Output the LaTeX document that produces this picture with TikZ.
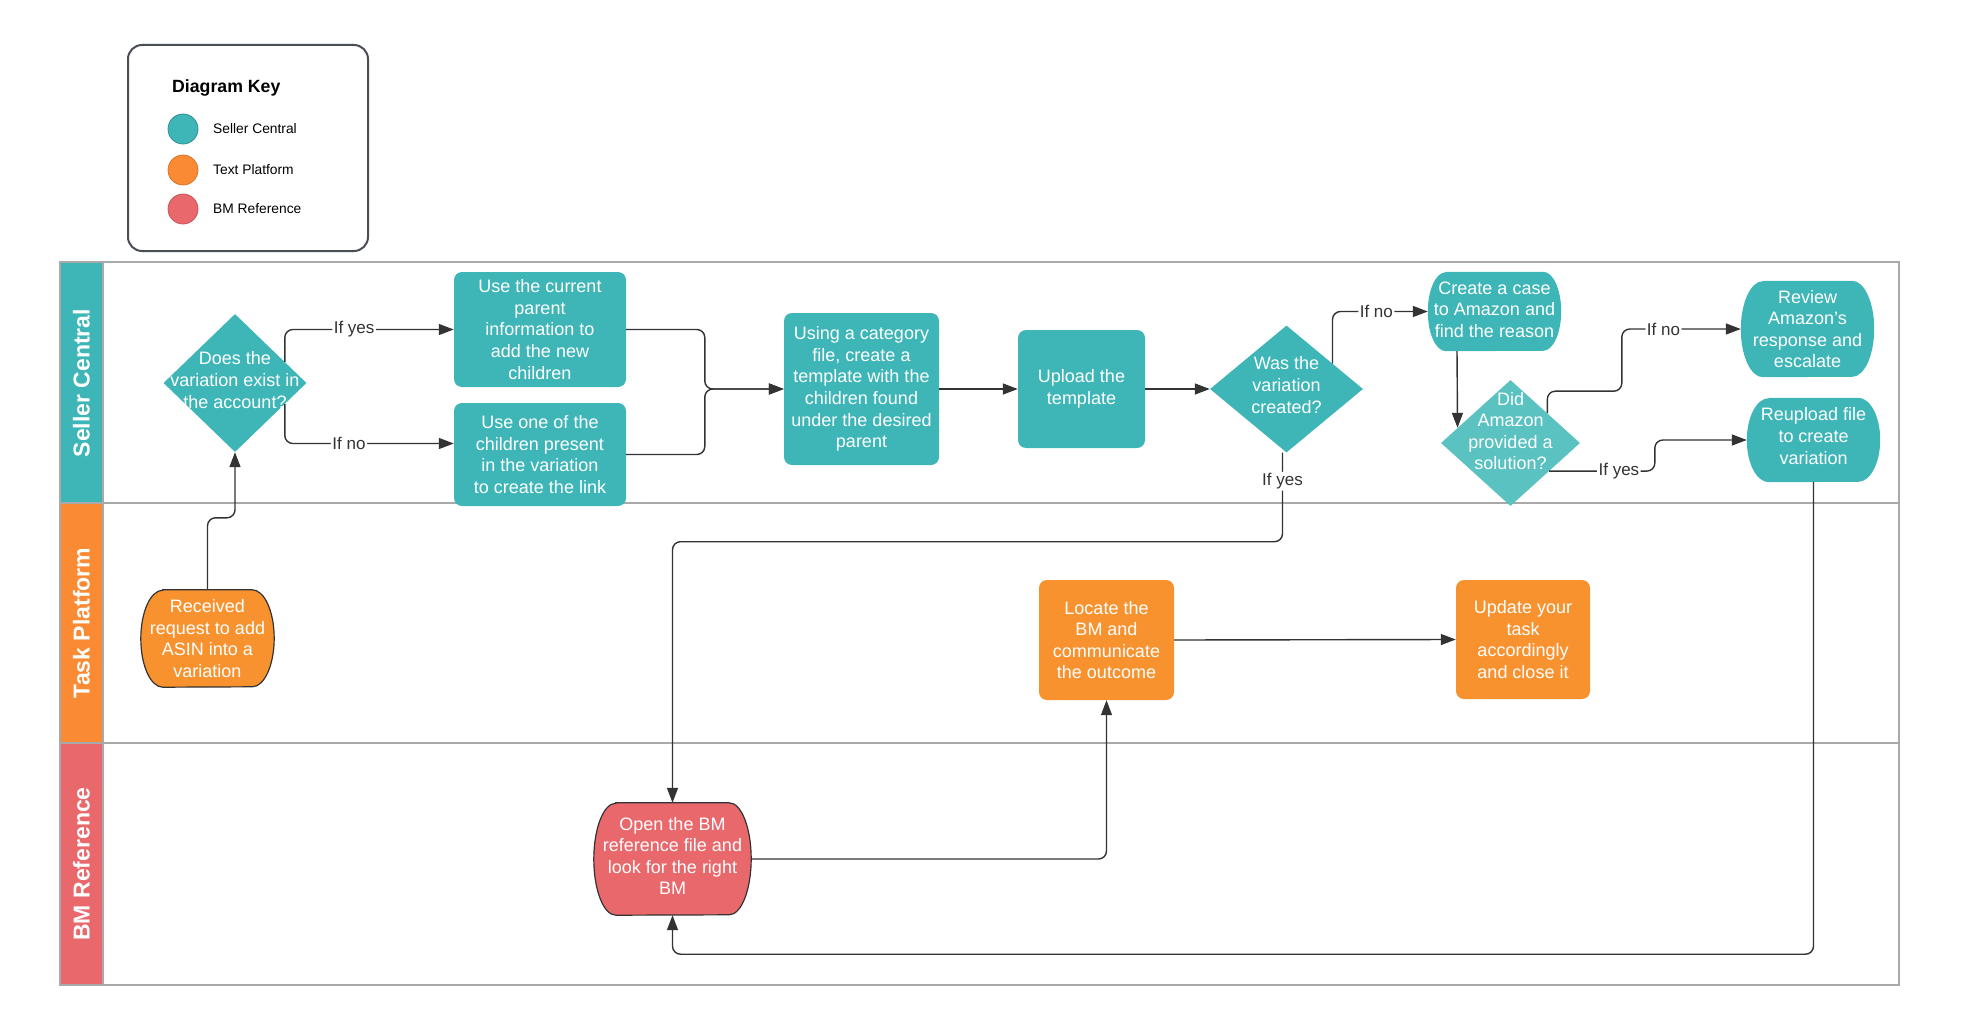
\documentclass[tikz,border=0pt]{standalone}
\usepackage{fontspec}
\setmainfont{Liberation Sans}
\usetikzlibrary{shapes.geometric,arrows.meta,calc}
\definecolor{teal1}{HTML}{3EB5B6}
\definecolor{teal2}{HTML}{5AC2C0}
\definecolor{orng}{HTML}{F8922F}
\definecolor{orngh}{HTML}{FA8B34}
\definecolor{redd}{HTML}{E8686C}
\definecolor{lanegray}{HTML}{A9A9A9}
\definecolor{ink}{HTML}{333333}
\definecolor{keyedge}{HTML}{4A4F55}
\newcommand\mynodefont{\fontsize{18}{21.6}\selectfont}
\newcommand\blobnode[7]{% name, x, y, w, h, rx, style
  \node[inner sep=0pt, minimum width=#4pt, minimum height=#5pt] (#1) at (#2,#3) {};
  \path[#7] ([xshift=#6pt]#1.north west) -- ([xshift=-#6pt]#1.north east)
     arc[start angle=90, end angle=-90, x radius=#6pt, y radius=#5pt/2]
     -- ([xshift=#6pt]#1.south west)
     arc[start angle=270, end angle=90, x radius=#6pt, y radius=#5pt/2] -- cycle;
}
\tikzset{
  txt/.style={text=white, align=center, inner sep=0pt, font=\mynodefont},
  box/.style={rectangle, rounded corners=8pt, fill=teal1, text=white, align=center, inner sep=0pt, font=\mynodefont},
  obox/.style={box, fill=orng},
  dia/.style={diamond, inner sep=0pt, fill=teal1},
  lbl/.style={fill=white, text=ink, inner sep=1.5pt, font=\fontsize{17}{20}\selectfont},
  conn/.style={draw=ink, line width=1.4pt, rounded corners=8pt, -{Triangle[length=15pt,width=11pt]}},
  lane/.style={draw=lanegray, line width=2pt},
  lanetitle/.style={rotate=90, text=white, font=\fontsize{23}{26}\selectfont\bfseries},
  keylbl/.style={anchor=west, inner sep=0pt, font=\fontsize{13.8}{16}\selectfont},
}
\begin{document}
\begin{tikzpicture}[x=1pt, y=-1pt]
\useasboundingbox (0,0) rectangle (1968,1030);
% key
\draw[keyedge, line width=2pt, rounded corners=14pt] (128,45) rectangle (368,251);
\node[anchor=west, inner sep=0pt, font=\fontsize{17.7}{20}\selectfont\bfseries] (keytitle) at (172,88) {Diagram Key};
\filldraw[fill=teal1, draw=teal1!80!black, line width=0.8pt] (183,129) circle[radius=15pt];
\filldraw[fill=orngh, draw=orngh!85!black, line width=0.8pt] (183,170) circle[radius=15pt];
\filldraw[fill=redd, draw=redd!85!black, line width=0.8pt] (183,209) circle[radius=15pt];
\node[keylbl] (k1) at (213,129) {Seller Central};
\node[keylbl] (k2) at (213,170) {Text Platform};
\node[keylbl] (k3) at (213,209) {BM Reference};
% lanes
\fill[teal1] (60,262) rectangle (103,503);
\fill[orngh] (60,503) rectangle (103,743);
\fill[redd] (60,743) rectangle (103,985);
\draw[lane] (60,262) rectangle (1899,985);
\draw[lane] (60,503) -- (1899,503);
\draw[lane] (60,743) -- (1899,743);
\draw[lane] (103,262) -- (103,985);
\node[lanetitle] (l1) at (81.5,383) {Seller Central};
\node[lanetitle] (l2) at (81.5,623) {Task Platform};
\node[lanetitle] (l3) at (81.5,864) {BM Reference};
% seller central nodes
\node[dia, minimum width=143pt, minimum height=138pt] (d1) at (235,383) {};
\node[txt] at ([yshift=3pt]d1.center) {Does the\\variation exist in\\the account?};
\node[box, minimum width=172pt, minimum height=115pt] (b2) at (540,329.5) {Use the current\\parent\\information to\\add the new\\children};
\node[box, minimum width=172pt, minimum height=103pt] (b3) at (540,454.5) {Use one of the\\children present\\in the variation\\to create the link};
\node[box, minimum width=155pt, minimum height=152pt] (b4) at (861.5,389) {Using a category\\file, create a\\template with the\\children found\\under the desired\\parent};
\node[box, minimum width=127pt, minimum height=118pt] (b5) at (1081.5,389) {Upload the\\template};
\node[dia, minimum width=153pt, minimum height=127pt] (d2) at (1286.5,389) {};
\node[txt] at ([yshift=4pt]d2.center) {Was the\\variation\\created?};
\blobnode{case}{1494.5}{311.5}{133}{79}{18}{fill=teal1}
\node[txt] at ([yshift=2pt]case.center) {Create a case\\to Amazon and\\find the reason};
\node[dia, fill=teal2, minimum width=139pt, minimum height=126pt] (d3) at (1510.5,443) {};
\node[txt] at ([yshift=12pt]d3.center) {Did\\Amazon\\provided a\\solution?};
\blobnode{rev}{1807.5}{329}{133}{96}{22}{fill=teal1}
\node[txt] at (rev.center) {Review\\Amazon's\\response and\\escalate};
\blobnode{reup}{1813.5}{440}{133}{84}{22}{fill=teal1}
\node[txt] at ([yshift=4pt]reup.center) {Reupload file\\to create\\variation};
% task platform nodes
\blobnode{rec}{207.5}{638.5}{133}{97}{22}{fill=orng, draw=ink, line width=1.2pt}
\node[txt] at (rec.center) {Received\\request to add\\ASIN into a\\variation};
\node[obox, minimum width=135pt, minimum height=120pt] (loc) at (1106.5,640) {Locate the\\BM and\\communicate\\the outcome};
\node[obox, minimum width=134pt, minimum height=119pt] (upd) at (1523,639.5) {Update your\\task\\accordingly\\and close it};
% BM reference node
\blobnode{bm}{672.5}{859}{157}{112}{22}{fill=redd, draw=ink, line width=1.2pt}
\node[txt] at ([yshift=3pt]bm.center) {Open the BM\\reference file and\\look for the right\\BM};
% connectors
\draw[conn] (rec.north) -- ++(0,-72) -| (d1.south);
\draw[conn] (d1.23) |- node[lbl, pos=0.705] {If yes} (b2.west);
\draw[conn] (d1.-23) |- node[lbl, pos=0.69] {If no} ([yshift=11pt]b3.west);
\draw[conn] (b2.east) -| ([xshift=-79pt]b4.west) -- (b4.west);
\draw[conn] (b3.east) -| ([xshift=-79pt]b4.west) -- (b4.west);
\draw[conn] (b4.east) -- (b5.west);
\draw[conn] (b5.east) -- (d2.west);
\draw[conn] (d2.29) |- node[lbl, pos=0.73] {If no} (case.west);
\draw[conn] ([xshift=-37.5pt]case.south) -- (d3.164);
\draw[conn] (d3.39) -- ++(0,-22) -| ([xshift=-119pt]rev.west) -- node[lbl, pos=0.35] {If no} (rev.west);
\draw[conn] (d3.-36) -| node[lbl, pos=0.33] {If yes} ([xshift=-92pt]reup.west) -- (reup.west);
\draw[conn] ([xshift=-4pt]d2.south) -- node[lbl, pos=0.32] {If yes} ++(0,89) -| (bm.north);
\draw[conn] (bm.east) -| (loc.south);
\draw[conn] (loc.east) -- (upd.west);
\draw[conn] (reup.south) -- ++(0,472) -| (bm.south);
\end{tikzpicture}
\end{document}
